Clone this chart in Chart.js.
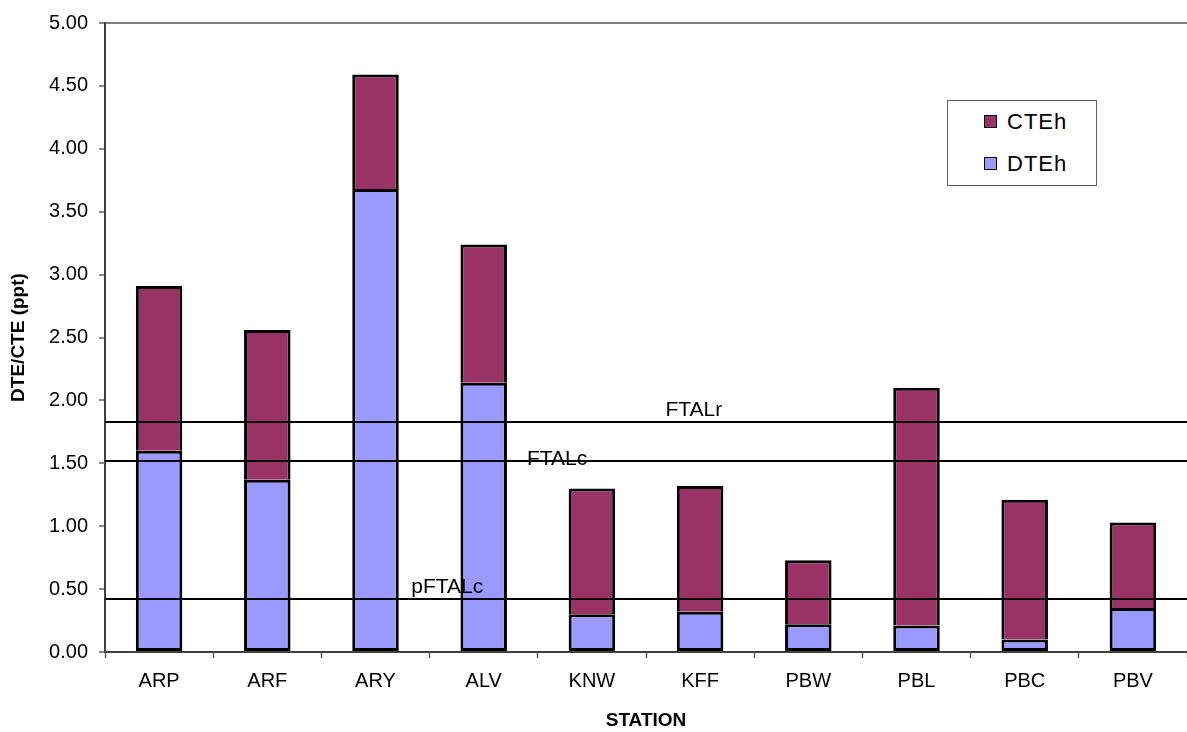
<!DOCTYPE html>
<html>
<head>
<meta charset="utf-8">
<script src="https://cdn.jsdelivr.net/npm/chart.js@4.4.1/dist/chart.umd.min.js"></script>
<style>
  html, body { margin: 0; padding: 0; background: #fff; }
  #wrap { position: relative; width: 1187px; height: 732px; }
  #legend {
    position: absolute; left: 947px; top: 100px; width: 148px; height: 84px;
    border: 1px solid #606060; background: #fff;
    font-family: "Liberation Sans", Arial, sans-serif; font-size: 22px; color: #000;
    letter-spacing: 1px;
  }
  #legend .item { position: absolute; left: 36px; height: 26px; line-height: 26px; }
  #legend .box { display: inline-block; width: 11px; height: 11px; border: 1px solid #000; margin-right: 10px; vertical-align: 1px; }
</style>
</head>
<body>
<div id="wrap">
  <canvas id="chart" width="1187" height="732"></canvas>
  <div id="legend"></div>
</div>
<script>
const stations = ['ARP', 'ARF', 'ARY', 'ALV', 'KNW', 'KFF', 'PBW', 'PBL', 'PBC', 'PBV'];
const dteh = [1.60, 1.37, 3.68, 2.14, 0.30, 0.32, 0.22, 0.21, 0.10, 0.35];
const cteh = [1.31, 1.19, 0.91, 1.10, 1.00, 1.00, 0.51, 1.89, 1.11, 0.68];
const refNames = ['FTALr', 'FTALc', 'pFTALc'];
const refValues = [1.83, 1.52, 0.42];
const yTicks = [0, 0.5, 1, 1.5, 2, 2.5, 3, 3.5, 4, 4.5, 5];

const font = '"Liberation Sans", Arial, sans-serif';

// where each threshold label sits along the plot, as a fraction of the width
const refLabelX = [0.518, 0.390, 0.283];

const refLines = {
  id: 'refLines',
  afterDatasetsDraw(chart) {
    const {ctx, chartArea, scales} = chart;
    ctx.save();
    ctx.strokeStyle = '#000';
    ctx.lineWidth = 2;
    ctx.fillStyle = '#000';
    ctx.font = '21px ' + font;
    ctx.textBaseline = 'alphabetic';
    refValues.forEach((v, i) => {
      const y = Math.round(scales.y.getPixelForValue(v));
      ctx.beginPath();
      ctx.moveTo(chartArea.left, y);
      ctx.lineTo(chartArea.right, y);
      ctx.stroke();
      const x = chartArea.left + refLabelX[i] * (chartArea.right - chartArea.left);
      const dy = i === 1 ? 4 : -6;
      ctx.fillText(refNames[i], x, y + dy);
    });
    ctx.restore();
  }
};

const chart = new Chart(document.getElementById('chart'), {
  type: 'bar',
  data: {
    labels: stations,
    datasets: [{
      label: 'DTEh',
      data: dteh,
      backgroundColor: '#9999FF',
      borderColor: '#000',
      borderWidth: 3,
      borderSkipped: false,
      inflateAmount: 0
    }, {
      label: 'CTEh',
      data: cteh,
      backgroundColor: '#993366',
      borderColor: '#000',
      borderWidth: 3,
      borderSkipped: 'start',
      inflateAmount: 0
    }]
  },
  options: {
    responsive: false,
    animation: false,
    layout: { padding: {top: 22, right: 0, left: 0, bottom: 0} },
    datasets: { bar: { categoryPercentage: 1, barPercentage: 0.43 } },
    plugins: {
      legend: { display: false },
      tooltip: { enabled: false }
    },
    scales: {
      x: {
        stacked: true,
        grid: { drawOnChartArea: false, tickColor: '#606060', tickLength: 6, tickWidth: 1.5, offset: true },
        border: { color: '#404040', width: 2 },
        ticks: { color: '#000', font: { family: font, size: 20 }, padding: 11 },
        title: { display: true, text: 'STATION', color: '#000', font: { family: font, size: 19, weight: 'bold' }, padding: {top: 0, bottom: 0} },
        afterFit(scale) { scale.height = 80; }
      },
      y: {
        stacked: true,
        min: 0,
        max: 5,
        afterBuildTicks(scale) { scale.ticks = yTicks.map(v => ({value: v})); },
        grid: {
          color: ctx => ctx.tick && ctx.tick.value === 5 ? '#808080' : 'transparent',
          lineWidth: 2,
          tickColor: '#606060',
          tickLength: 6,
          tickWidth: 1.5
        },
        border: { color: '#404040', width: 2 },
        ticks: {
          color: '#000',
          font: { family: font, size: 20 },
          padding: 11,
          callback: v => Number(v).toFixed(2)
        },
        title: { display: true, text: 'DTE/CTE (ppt)', color: '#000', font: { family: font, size: 19, weight: 'bold' }, padding: {top: 7, bottom: 0} },
        afterFit(scale) { scale.width = 105; }
      }
    }
  },
  plugins: [refLines]
});

// legend, top entry is the upper stack
const legendEl = document.getElementById('legend');
chart.data.datasets.slice().reverse().forEach((ds, i) => {
  const item = document.createElement('div');
  item.className = 'item';
  item.style.top = (8 + i * 42) + 'px';
  item.innerHTML = '<span class="box" style="background:' + ds.backgroundColor + '"></span>' + ds.label;
  legendEl.appendChild(item);
});
</script>
</body>
</html>
